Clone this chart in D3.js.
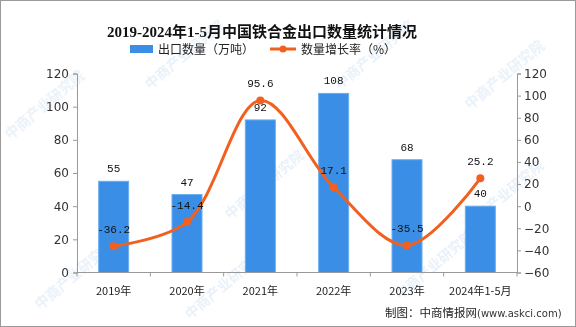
<!DOCTYPE html>
<html>
<head>
<meta charset="utf-8">
<script src="https://cdn.jsdelivr.net/npm/d3@7"></script>
<style>
  html, body { margin: 0; padding: 0; background: #fff; }
  svg { display: block; }
</style>
</head>
<body>
<svg id="chart" width="576" height="327"></svg>
<script>
// 2019-2024年1-5月 铁合金出口数量与增长率
const categories = ["2019年", "2020年", "2021年", "2022年", "2023年", "2024年1-5月"];
const exportVolume = [55, 47, 92, 108, 68, 40];          // 万吨
const growthRate = [-36.2, -14.4, 95.6, 17.1, -35.5, 25.2]; // %
const leftTicks = [0, 20, 40, 60, 80, 100, 120];
const rightTicks = [-60, -40, -20, 0, 20, 40, 60, 80, 100, 120];

const svg = d3.select("#chart");
const W = 576, H = 327;
const plot = { left: 77, right: 517, top: 73.5, bottom: 272.5 };

const barColor = "#3a8ee6";
const lineColor = "#f2601f";
const axisColor = "#999";
const cnFont = "'Noto Sans CJK SC', 'Liberation Sans', sans-serif";
const numFont = "'Liberation Mono', 'DejaVu Sans Mono', monospace";

// outer frame
svg.append("rect").attr("x", 0.5).attr("y", 0.5).attr("width", W - 1).attr("height", H - 1)
  .attr("fill", "#fff").attr("stroke", "#9a9a9a");

// faint watermark
const wm = svg.append("g").attr("fill", "#d3e3f4").attr("opacity", 0.5)
  .attr("font-family", cnFont).attr("font-size", 14).attr("font-weight", "bold");
[[10, 140], [150, 90], [340, 90], [470, 110], [40, 310], [230, 220], [400, 300], [190, 320], [470, 230]].forEach(([x, y]) => {
  wm.append("text").attr("transform", `translate(${x},${y}) rotate(-40)`).text("中商产业研究院");
});

const x = d3.scaleBand().domain(categories).range([plot.left, plot.right]).paddingInner(0).paddingOuter(0);
const yL = d3.scaleLinear().domain([0, 120]).range([plot.bottom, plot.top]);
const yR = d3.scaleLinear().domain([-60, 120]).range([plot.bottom, plot.top]);

// title
svg.append("text").attr("x", 262).attr("y", 37).attr("text-anchor", "middle")
  .attr("font-family", "'Liberation Serif', 'Noto Sans CJK SC', serif")
  .attr("font-size", 15).attr("font-weight", "bold").attr("fill", "#111")
  .text("2019-2024年1-5月中国铁合金出口数量统计情况");

// legend
const lg = svg.append("g").attr("font-family", cnFont).attr("font-size", 12).attr("fill", "#222");
lg.append("rect").attr("x", 130).attr("y", 45).attr("width", 23).attr("height", 8).attr("fill", barColor);
lg.append("text").attr("x", 158).attr("y", 53.5).text("出口数量（万吨）");
lg.append("line").attr("x1", 270).attr("x2", 296).attr("y1", 49).attr("y2", 49)
  .attr("stroke", lineColor).attr("stroke-width", 3);
lg.append("circle").attr("cx", 283).attr("cy", 49).attr("r", 3.5).attr("fill", lineColor);
lg.append("text").attr("x", 301).attr("y", 53.5).text("数量增长率（%）");

// left axis
const axL = svg.append("g").attr("transform", `translate(${plot.left},0)`)
  .call(d3.axisLeft(yL).tickValues(leftTicks).tickSize(4).tickPadding(4));
// right axis
const axR = svg.append("g").attr("transform", `translate(${plot.right},0)`)
  .call(d3.axisRight(yR).tickValues(rightTicks).tickSize(4).tickPadding(3)
    .tickFormat(d => d < 0 ? "\u2212" + Math.abs(d) : d));
[axL, axR].forEach(a => {
  a.selectAll("path, line").attr("stroke", axisColor);
  a.selectAll("text").attr("font-family", "'DejaVu Sans', sans-serif").attr("font-size", 12).attr("fill", "#333");
});

// bars
const bw = 30;
svg.append("g").selectAll("rect").data(exportVolume).join("rect")
  .attr("x", (d, i) => x(categories[i]) + x.bandwidth() / 2 - bw / 2)
  .attr("y", d => yL(d))
  .attr("width", bw)
  .attr("height", d => yL(0) - yL(d))
  .attr("fill", barColor)
  .attr("stroke", "#6aaef0").attr("stroke-width", 1);

// x axis
const axX = svg.append("g").attr("transform", `translate(0,${plot.bottom})`);
axX.append("line").attr("x1", plot.left).attr("x2", plot.right).attr("stroke", axisColor);
const bounds = categories.map(c => x(c)).concat([plot.right]);
axX.selectAll("line.tk").data(bounds).join("line").attr("class", "tk")
  .attr("x1", d => d).attr("x2", d => d).attr("y1", 0).attr("y2", 4).attr("stroke", axisColor);
axX.selectAll("text").data(categories).join("text")
  .attr("x", d => x(d) + x.bandwidth() / 2).attr("y", 22).attr("text-anchor", "middle")
  .attr("font-family", cnFont).attr("font-size", 11).attr("fill", "#222").text(d => d);

// bar labels
svg.append("g").selectAll("text").data(exportVolume).join("text")
  .attr("x", (d, i) => x(categories[i]) + x.bandwidth() / 2)
  .attr("y", d => yL(d) - 9).attr("text-anchor", "middle")
  .attr("font-family", numFont).attr("font-size", 11).attr("fill", "#111").text(d => d);

// growth line
const pts = growthRate.map((d, i) => [x(categories[i]) + x.bandwidth() / 2, yR(d)]);
svg.append("path").attr("d", d3.line().curve(d3.curveCatmullRom.alpha(0.5))(pts))
  .attr("fill", "none").attr("stroke", lineColor).attr("stroke-width", 3);
svg.append("g").selectAll("circle").data(pts).join("circle")
  .attr("cx", d => d[0]).attr("cy", d => d[1]).attr("r", 4).attr("fill", lineColor);
svg.append("g").selectAll("text").data(growthRate).join("text")
  .attr("x", (d, i) => pts[i][0]).attr("y", (d, i) => pts[i][1] - 13).attr("text-anchor", "middle")
  .attr("font-family", numFont).attr("font-size", 11).attr("fill", "#111").text(d => d);

// source note
svg.append("text").attr("x", 385).attr("y", 317).attr("font-family", cnFont)
  .attr("font-size", 11.5).attr("fill", "#222")
  .text("制图：中商情报网")
  .append("tspan").attr("font-family", "'DejaVu Sans', sans-serif").attr("font-size", 10).attr("fill", "#333")
  .text("(www.askci.com)");
</script>
</body>
</html>
